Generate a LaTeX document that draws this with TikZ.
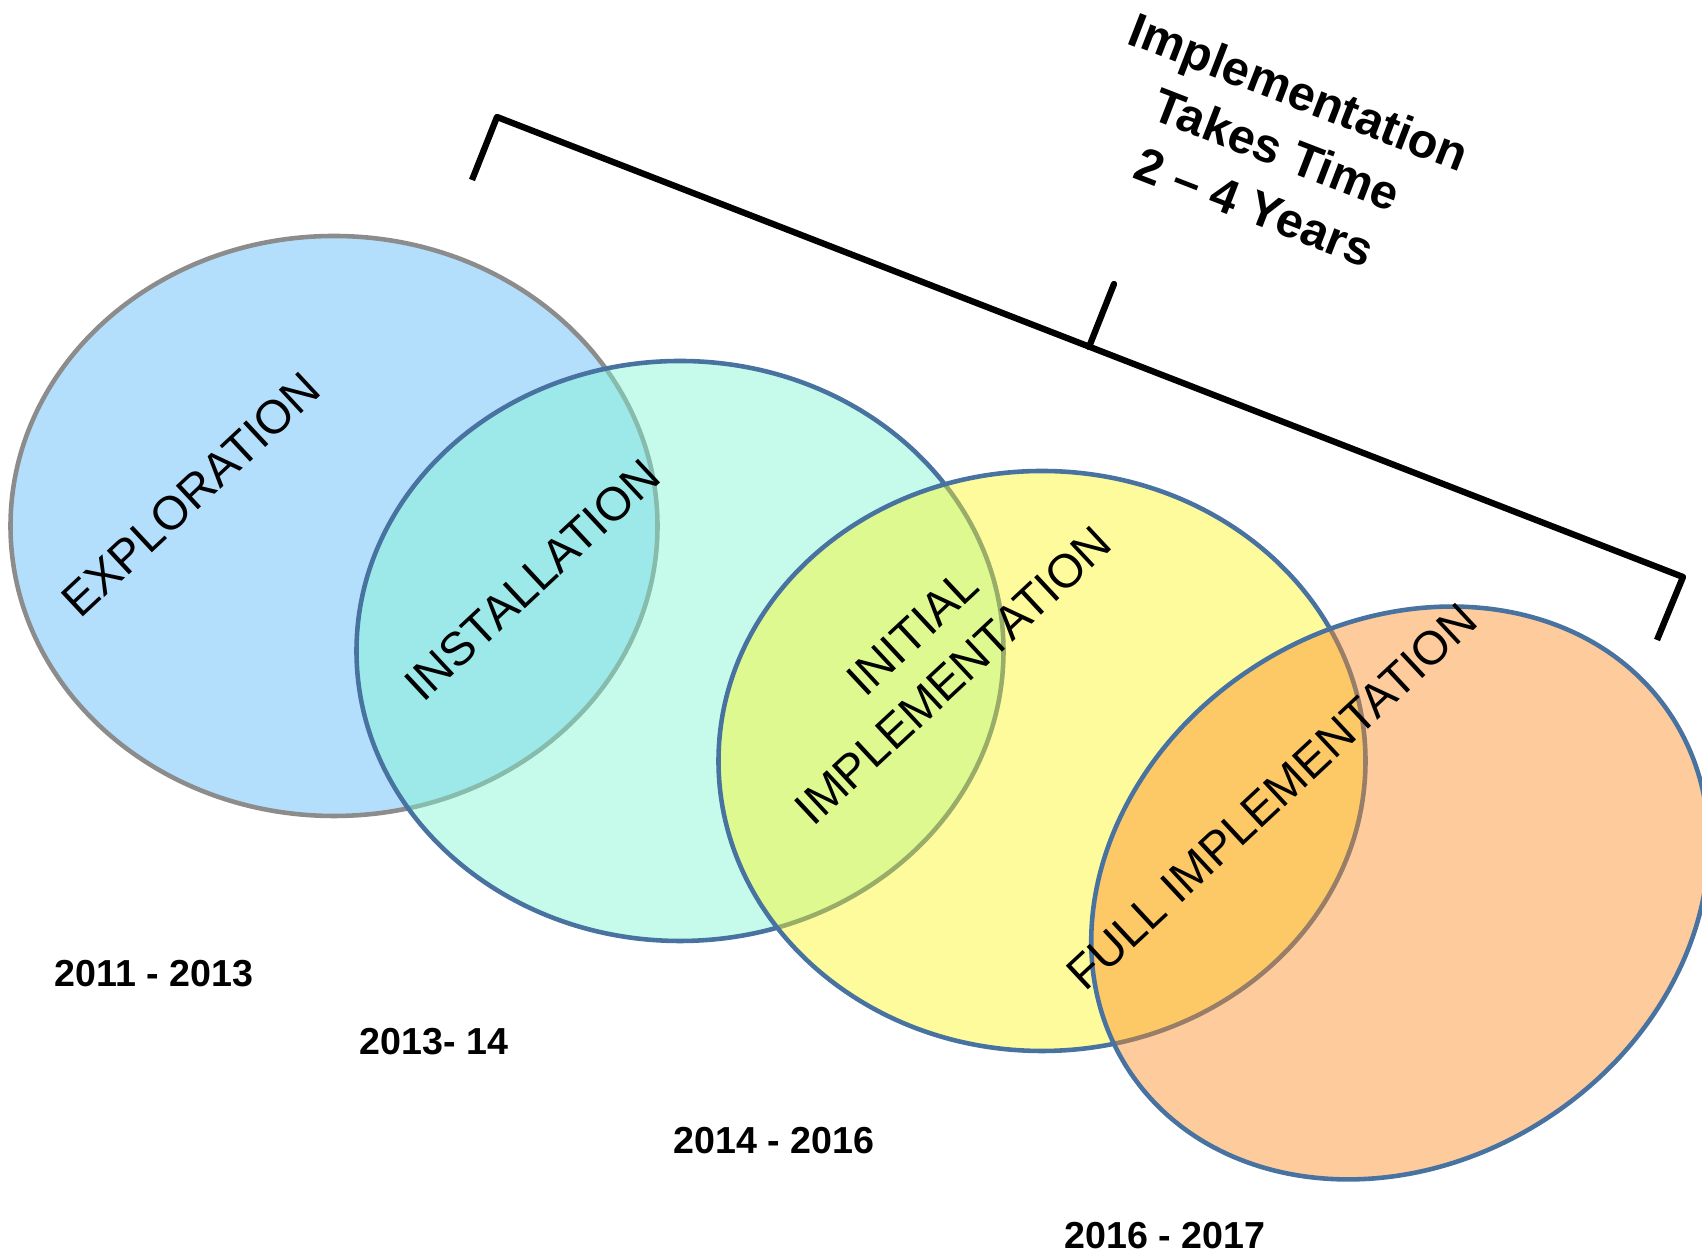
\documentclass[tikz,border=0pt]{standalone}
\usepackage{fontspec}
\setmainfont{Liberation Sans}
\usetikzlibrary{shapes.geometric}

\definecolor{exploreblue}{RGB}{87,184,249}
\definecolor{installmint}{RGB}{129,247,213}
\definecolor{initialyellow}{RGB}{253,247,36}
\definecolor{fullorange}{RGB}{251,140,36}
\definecolor{rimgray}{RGB}{140,140,140}
\definecolor{rimblue}{RGB}{72,114,160}

\begin{document}
\begin{tikzpicture}[
    phase/.style = {ellipse, draw = rimblue,
      line width = 1.3pt,
      inner sep = 0pt,
      minimum width = 6.47cm,
      minimum height = 5.80cm,
      fill opacity = 0.45},
    stage/.style = {font = \fontsize{13.4}{17}\selectfont,
      rotate = 43, align = center},
    years/.style = {font = \fontsize{10.7}{13}\selectfont\bfseries},
    bracket/.style = {line width = 1.8pt, line join = round},
    ]

    \useasboundingbox (0, 0) rectangle (17.02, 12.56);

    \node at (3.34, 7.30)
    [phase, draw = rimgray, fill = exploreblue, name = E_x] {};
    \node at (6.80, 6.05)
    [phase, fill = installmint, name = E_s] {};
    \node at (10.42, 4.95)
    [phase, fill = initialyellow, name = E_i] {};
    \node at (14.00, 3.63)
    [phase, fill = fullorange, minimum width = 6.48cm,
      minimum height = 5.38cm, rotate = 33, name = E_f] {};

    \node at (1.91, 7.61) [stage, name = L_x] {EXPLORATION};
    \node at (5.32, 6.76) [stage, name = L_s] {INSTALLATION};
    \node at (9.33, 6.02) [stage, name = L_i] {INITIAL\\IMPLEMENTATION};
    \node at (12.72, 4.59) [stage, name = L_f] {FULL IMPLEMENTATION};

    \node at (1.54, 2.82) [years, name = Y_x] {2011 - 2013};
    \node at (4.34, 2.14) [years, name = Y_s] {2013- 14};
    \node at (7.74, 1.15) [years, name = Y_i] {2014 - 2016};
    \node at (11.65, 0.20) [years, name = Y_f] {2016 - 2017};

    \coordinate (B_lt) at (4.72, 10.76);
    \coordinate (B_l) at (4.97, 11.39);
    \coordinate (B_r) at (16.83, 6.79);
    \coordinate (B_rt) at (16.57, 6.16);
    \coordinate (B_m) at (10.89, 9.09);
    \coordinate (B_mt) at (11.14, 9.72);

    \draw [bracket] (B_lt) -- (B_l) -- (B_r) -- (B_rt);
    \draw [bracket, line cap = round] (B_m) -- (B_mt);

    \node at (12.77, 11.07)
    [font = \fontsize{13.8}{17.5}\selectfont\bfseries, align = center,
      rotate = -21.2, name = T] {Implementation\\Takes Time\\2 – 4 Years};
  \end{tikzpicture}
\end{document}
